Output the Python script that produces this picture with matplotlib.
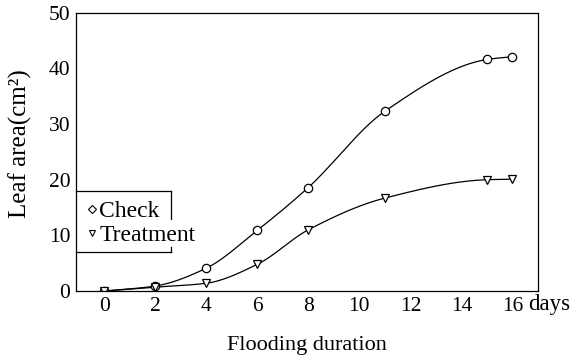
import numpy as np
import matplotlib
matplotlib.use("Agg")
import matplotlib.pyplot as plt

plt.rcParams['font.family'] = ['Liberation Serif', 'DejaVu Serif']
plt.rcParams['font.size'] = 15.5

# ---- data ----
days = [0, 2, 4, 6, 8, 11, 15, 16]
check = [0.0, 0.9, 4.1, 10.9, 18.6, 32.3, 41.6, 42.1]
treatment = [0.0, 0.7, 1.4, 4.8, 11.0, 16.7, 20.0, 20.1]
xticks = [0, 2, 4, 6, 8, 10, 12, 14, 16]
yticks = [0, 10, 20, 30, 40, 50]


def pchip(x, y, xs):
    # monotone cubic, only used to draw the smooth curve through the points
    x = np.asarray(x, float)
    y = np.asarray(y, float)
    h = np.diff(x)
    d = np.diff(y) / h
    m = np.zeros_like(y)
    for k in range(1, len(x) - 1):
        if d[k - 1] * d[k] > 0:
            w1 = 2 * h[k] + h[k - 1]
            w2 = h[k] + 2 * h[k - 1]
            m[k] = (w1 + w2) / (w1 / d[k - 1] + w2 / d[k])
    m[0] = d[0]
    m[-1] = d[-1]
    i = np.clip(np.searchsorted(x, xs) - 1, 0, len(x) - 2)
    t = (xs - x[i]) / h[i]
    h00 = 2 * t**3 - 3 * t**2 + 1
    h10 = t**3 - 2 * t**2 + t
    h01 = -2 * t**3 + 3 * t**2
    h11 = t**3 - t**2
    return h00 * y[i] + h10 * h[i] * m[i] + h01 * y[i + 1] + h11 * h[i] * m[i + 1]


fig = plt.figure(figsize=(5.76, 3.58), dpi=100)
ax = fig.add_axes([0.132, 0.187, 0.802, 0.7775])

xs = np.linspace(days[0], days[-1], 300)
ax.plot(xs, pchip(days, check, xs), color='black', lw=0.9)
ax.plot(xs, pchip(days, treatment, xs), color='black', lw=0.9)
ax.plot(days, check, 'o', ms=6, mfc='white', mec='black', mew=0.9)
ax.plot(days, treatment, 'v', ms=6, mfc='white', mec='black', mew=0.9)

ax.set_xlim(-1.1, 17.0)
ax.set_ylim(0, 50)
ax.set_xticks(xticks)
ax.set_yticks(yticks)
ax.tick_params(length=0)
ax.tick_params(axis='x', pad=4)
ax.tick_params(axis='y', pad=4)
for s in ax.spines.values():
    s.set_linewidth(0.9)

ax.set_xlabel('Flooding duration', va='center', fontsize=16)
ax.xaxis.set_label_coords(0.5, -0.194)
ax.set_ylabel('Leaf area(cm²)', va='center', fontsize=18)
ax.yaxis.set_label_coords(-0.121, 0.528)
fig.text(0.917, 0.1494, 'days', va='center', ha='left', fontsize=16.5)

# legend box (right edge broken by the "Treatment" text, as in the original)
tr = ax.transAxes
bx0, bx1, by0, by1 = 0.0, 0.2056, 0.141, 0.360
ax.plot([bx0, bx1], [by1, by1], color='black', lw=0.9, transform=tr, clip_on=False)
ax.plot([bx0, bx1], [by0, by0], color='black', lw=0.9, transform=tr, clip_on=False)
ax.plot([bx1, bx1], [by1, 0.258], color='black', lw=0.9, transform=tr, clip_on=False)
ax.plot([bx1, bx1], [0.159, by0], color='black', lw=0.9, transform=tr, clip_on=False)
ax.plot([0.034], [0.2936], marker='D', ms=4, mfc='white', mec='black', mew=0.8,
        transform=tr, clip_on=False)
ax.plot([0.034], [0.2095], marker='v', ms=4.5, mfc='white', mec='black', mew=0.8,
        transform=tr, clip_on=False)
ax.text(0.050, 0.285, 'Check', transform=tr, va='center', ha='left', fontsize=17)
ax.text(0.050, 0.201, 'Treatment', transform=tr, va='center', ha='left', fontsize=17)

fig.savefig('out.png', dpi=100)
